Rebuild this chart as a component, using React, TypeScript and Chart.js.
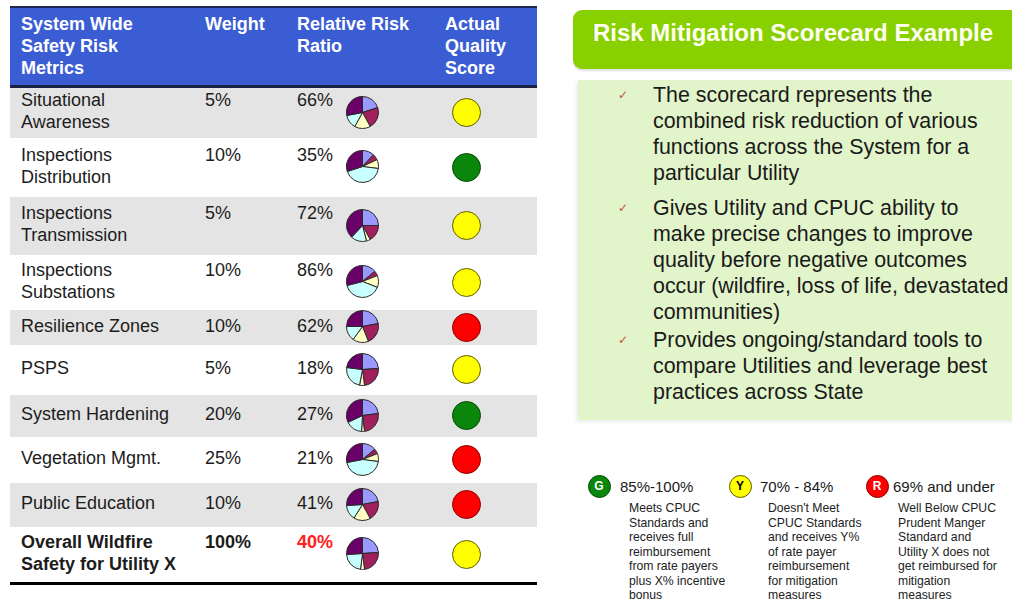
import React, { useEffect, useRef } from "react";
import { Chart, registerables } from "chart.js";

Chart.register(...registerables);

// ---------- DATA ----------
const metricNames: string[][] = [
  ["Situational", "Awareness"],
  ["Inspections", "Distribution"],
  ["Inspections", "Transmission"],
  ["Inspections", "Substations"],
  ["Resilience Zones"],
  ["PSPS"],
  ["System Hardening"],
  ["Vegetation Mgmt."],
  ["Public Education"],
  ["Overall Wildfire", "Safety for Utility X"],
];
const weights = ["5%", "10%", "5%", "10%", "10%", "5%", "20%", "25%", "10%", "100%"];
const riskRatios = ["66%", "35%", "72%", "86%", "62%", "18%", "27%", "21%", "41%", "40%"];
const qualityScores = ["Y", "G", "Y", "Y", "R", "Y", "G", "R", "R", "Y"];

// pie slice shares per row: [lavender, maroon, yellow, cyan, purple]
const sliceLabels = ["A", "B", "C", "D", "E"];
const pieShares: number[][] = [
  [20, 22, 16, 14, 28],
  [12, 6, 9, 43, 30],
  [25, 17, 4, 16, 38],
  [14, 5, 12, 40, 29],
  [22, 22, 16, 15, 25],
  [24, 24, 5, 24, 23],
  [23, 25, 3, 17, 32],
  [14, 5, 8, 45, 28],
  [22, 20, 17, 15, 26],
  [24, 24, 4, 22, 26],
];

const headerCols = [
  ["System Wide", "Safety Risk", "Metrics"],
  ["Weight"],
  ["Relative Risk", "Ratio"],
  ["Actual", "Quality", "Score"],
];

const titleText = "Risk Mitigation Scorecard Example";
const bullets: string[][] = [
  ["The scorecard represents the", "combined risk reduction of various", "functions across the System for a", "particular Utility"],
  ["Gives Utility and CPUC ability to", "make precise changes to improve", "quality before negative outcomes", "occur (wildfire, loss of life, devastated", "communities)"],
  ["Provides ongoing/standard tools to", "compare Utilities and leverage best", "practices across State"],
];

const legendKeys = ["G", "Y", "R"];
const legendRanges = ["85%-100%", "70% - 84%", "69% and under"];
const legendTexts: string[][] = [
  ["Meets CPUC", "Standards and", "receives full", "reimbursement", "from rate payers", "plus X% incentive", "bonus"],
  ["Doesn't Meet", "CPUC Standards", "and receives Y%", "of rate payer", "reimbursement", "for mitigation", "measures"],
  ["Well Below CPUC", "Prudent Manger", "Standard and", "Utility X does not", "get reimbursed for", "mitigation", "measures"],
];

// ---------- STYLE / LAYOUT ----------
const sliceColors = ["#9999FF", "#A0205E", "#FFFFC4", "#C8FFFF", "#680068"];
const scoreFill: Record<string, string> = { G: "#0A870A", Y: "#FFFF00", R: "#FF0000" };
const scoreBorder: Record<string, string> = { G: "#054A05", Y: "#5E5A00", R: "#8A0000" };
const scoreText: Record<string, string> = { G: "#FFFFFF", Y: "#000000", R: "#FFFFFF" };
const rowHeights = [50, 59, 58, 55, 35, 50, 42, 46, 44, 55];
const colLeft = [11, 195, 287, 435];
const FONT = '"Liberation Sans", Arial, Helvetica, sans-serif';
const paraTops = [82, 195, 327];
const legendCircleX = [599, 740, 877];
const legendRangeX = [620, 760, 893];
const legendTextX = [629, 768, 898];

function MiniPie({ values }: { values: number[] }) {
  const ref = useRef<HTMLCanvasElement>(null);
  useEffect(() => {
    if (!ref.current) return;
    const chart = new Chart(ref.current, {
      type: "pie",
      data: {
        labels: sliceLabels,
        datasets: [
          {
            data: values,
            backgroundColor: sliceColors,
            borderColor: "#2a2a2a",
            borderWidth: 1,
          },
        ],
      },
      options: {
        animation: false,
        responsive: false,
        events: [],
        layout: { padding: 0 },
        plugins: { legend: { display: false }, tooltip: { enabled: false } },
      },
    });
    return () => chart.destroy();
  }, [values]);
  return <canvas ref={ref} width={33} height={33} style={{ width: 33, height: 33, display: "block" }} />;
}

export default function App() {
  const textColor = "#1c1c1c";
  let y = 0;
  const rows = metricNames.map((name, i) => {
    const h = rowHeights[i];
    const top = y;
    y += h;
    const bold = i === metricNames.length - 1;
    const lines = name.length;
    const lh = 22;
    const textTop = (h - lines * lh) / 2 - 2;
    return (
      <div
        key={i}
        style={{
          position: "absolute",
          left: 0,
          top,
          width: 527,
          height: h,
          background: i % 2 === 0 ? "#E4E4E4" : "#FFFFFF",
        }}
      >
        <div style={{ position: "absolute", left: colLeft[0], top: textTop, lineHeight: lh + "px", fontWeight: bold ? 700 : 400 }}>
          {name.map((l, k) => (
            <div key={k}>{l}</div>
          ))}
        </div>
        <div style={{ position: "absolute", left: colLeft[1], top: textTop, lineHeight: lh + "px", fontWeight: bold ? 700 : 400 }}>
          {weights[i]}
        </div>
        <div
          style={{
            position: "absolute",
            left: colLeft[2],
            top: textTop,
            lineHeight: lh + "px",
            fontWeight: bold ? 700 : 400,
            color: bold ? "#FF2020" : textColor,
          }}
        >
          {riskRatios[i]}
        </div>
        <div style={{ position: "absolute", left: 352 - 16.5, top: h / 2 - 1 - 16.5 }}>
          <MiniPie values={pieShares[i]} />
        </div>
        <div
          style={{
            position: "absolute",
            left: 457 - 15,
            top: h / 2 - 15,
            width: 27,
            height: 27,
            borderRadius: "50%",
            background: scoreFill[qualityScores[i]],
            border: "1.5px solid " + scoreBorder[qualityScores[i]],
          }}
        />
      </div>
    );
  });

  return (
    <div
      style={{
        position: "absolute",
        left: 0,
        top: 0,
        width: 1012,
        height: 604,
        background: "#FFFFFF",
        overflow: "hidden",
        fontFamily: FONT,
        color: textColor,
      }}
    >
      {/* TABLE */}
      <div style={{ position: "absolute", left: 10, top: 6, width: 527, height: 580, fontSize: 18 }}>
        <div style={{ position: "absolute", left: 0, top: 0, width: 527, height: 2, background: "#1F2850" }} />
        <div style={{ position: "absolute", left: 0, top: 2, width: 527, height: 77, background: "#3B5DD4" }}>
          {headerCols.map((lines, c) => (
            <div
              key={c}
              style={{
                position: "absolute",
                left: colLeft[c],
                top: 5,
                lineHeight: "22px",
                fontWeight: 700,
                color: "#FFFFFF",
              }}
            >
              {lines.map((l, k) => (
                <div key={k}>{l}</div>
              ))}
            </div>
          ))}
        </div>
        <div style={{ position: "absolute", left: 0, top: 79, width: 527, height: 3, background: "#1A2244" }} />
        <div style={{ position: "absolute", left: 0, top: 82, width: 527, height: 494 }}>{rows}</div>
        <div style={{ position: "absolute", left: 0, top: 576, width: 527, height: 3, background: "#000000" }} />
      </div>

      {/* TITLE BOX */}
      <div
        style={{
          position: "absolute",
          left: 573,
          top: 10,
          width: 460,
          height: 59,
          borderRadius: 9,
          background: "#88D000",
          boxShadow: "0 2px 2px rgba(0,0,0,0.12)",
        }}
      >
        <div
          style={{
            position: "absolute",
            left: 20,
            top: 9,
            fontSize: 24,
            lineHeight: "28px",
            fontWeight: 700,
            color: "#FFFFF2",
            whiteSpace: "nowrap",
          }}
        >
          {titleText}
        </div>
      </div>

      {/* BULLET PANEL */}
      <div
        style={{
          position: "absolute",
          left: 578,
          top: 80,
          width: 440,
          height: 340,
          background: "#E2F4C9",
          boxShadow: "-2px 2px 4px rgba(0,0,0,0.08)",
        }}
      />
      {bullets.map((lines, p) => (
        <React.Fragment key={p}>
          <div
            style={{
              position: "absolute",
              left: 618,
              top: paraTops[p] + 5,
              fontFamily: '"DejaVu Sans", sans-serif',
              fontSize: 12,
              lineHeight: "16px",
              color: "#C0503A",
            }}
          >
            ✓
          </div>
          <div
            style={{
              position: "absolute",
              left: 653,
              top: paraTops[p],
              fontSize: 21.4,
              lineHeight: "26px",
              color: "#1a1a1a",
              whiteSpace: "nowrap",
            }}
          >
            {lines.map((l, k) => (
              <div key={k}>{l}</div>
            ))}
          </div>
        </React.Fragment>
      ))}

      {/* LEGEND */}
      {legendKeys.map((k, i) => (
        <React.Fragment key={k}>
          <div
            style={{
              position: "absolute",
              left: legendCircleX[i] - 11.5,
              top: 486 - 11.5,
              width: 21,
              height: 21,
              borderRadius: "50%",
              background: scoreFill[k],
              border: "1px solid " + scoreBorder[k],
              color: scoreText[k],
              fontSize: 12,
              fontWeight: 700,
              lineHeight: "21px",
              textAlign: "center",
            }}
          >
            {k}
          </div>
          <div
            style={{
              position: "absolute",
              left: legendRangeX[i],
              top: 477,
              fontSize: 15,
              lineHeight: "20px",
              color: "#1a1a1a",
              whiteSpace: "nowrap",
            }}
          >
            {legendRanges[i]}
          </div>
          <div
            style={{
              position: "absolute",
              left: legendTextX[i],
              top: 501,
              fontSize: 12.2,
              lineHeight: "14.5px",
              color: "#222",
              whiteSpace: "nowrap",
            }}
          >
            {legendTexts[i].map((l, j) => (
              <div key={j}>{l}</div>
            ))}
          </div>
        </React.Fragment>
      ))}
    </div>
  );
}
